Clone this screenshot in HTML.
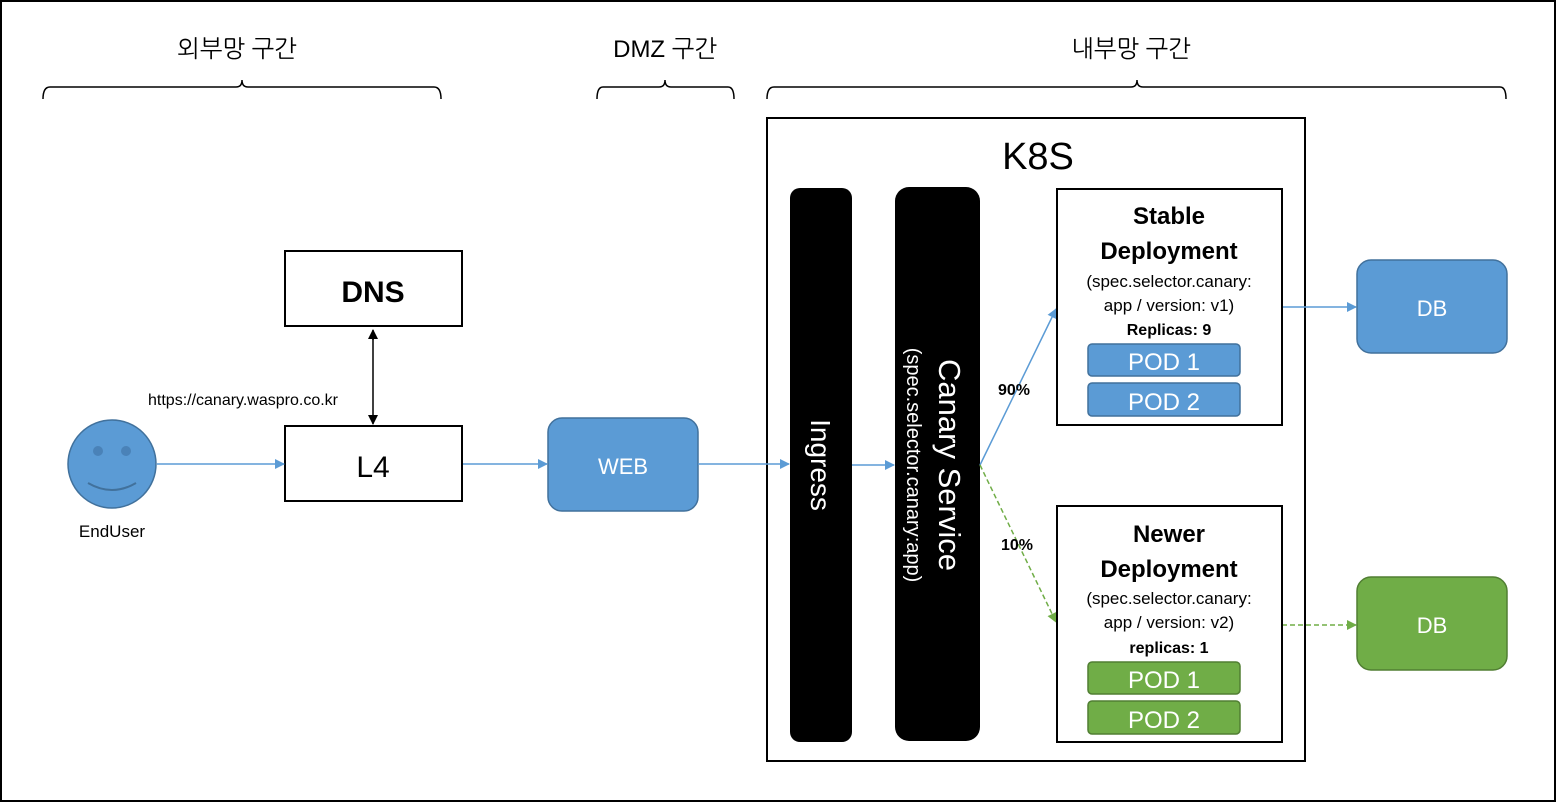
<!DOCTYPE html>
<html><head><meta charset="utf-8"><style>
html,body{margin:0;padding:0;background:#fff}
svg{display:block}
text{font-family:"Liberation Sans","NanumGothic",sans-serif}
</style></head><body>
<svg width="1556" height="802" viewBox="0 0 1556 802" xmlns="http://www.w3.org/2000/svg">
<defs>
<marker id="ab" markerWidth="10" markerHeight="10" refX="9" refY="5" orient="auto" markerUnits="userSpaceOnUse"><path d="M0,0 L10,5 L0,10 z" fill="#5b9bd5"/></marker>
<marker id="ag" markerWidth="10" markerHeight="10" refX="9" refY="5" orient="auto" markerUnits="userSpaceOnUse"><path d="M0,0 L10,5 L0,10 z" fill="#70ad47"/></marker>
<marker id="ak" markerWidth="10" markerHeight="10" refX="9" refY="5" orient="auto" markerUnits="userSpaceOnUse"><path d="M0,0 L10,5 L0,10 z" fill="#000"/></marker>
</defs>
<rect x="1" y="1" width="1554" height="800" fill="#fff" stroke="#000" stroke-width="2"/>

<g fill="none" stroke="#000" stroke-width="1.5">
<path d="M43,99 Q43,87 50,87 L236,87 Q242,87 242,80 Q242,87 248,87 L434,87 Q441,87 441,99"/>
<path d="M597,99 Q597,87 603,87 L659,87 Q665,87 665,80 Q665,87 671,87 L728,87 Q734,87 734,99"/>
<path d="M767,99 Q767,87 774,87 L1131,87 Q1137,87 1137,80 Q1137,87 1143,87 L1500,87 Q1506,87 1506,99"/>
</g>
<g font-size="24" text-anchor="middle" fill="#000">
<text x="237" y="57">외부망 구간</text>
<text x="665" y="57">DMZ 구간</text>
<text x="1131" y="57">내부망 구간</text>
</g>

<rect x="285" y="251" width="177" height="75" fill="#fff" stroke="#000" stroke-width="2"/>
<text x="373" y="302" font-size="30" font-weight="bold" text-anchor="middle">DNS</text>
<rect x="285" y="426" width="177" height="75" fill="#fff" stroke="#000" stroke-width="2"/>
<text x="373" y="477" font-size="30" text-anchor="middle">L4</text>
<line x1="373" y1="340" x2="373" y2="330" stroke="#000" stroke-width="1.5" marker-end="url(#ak)"/>
<line x1="373" y1="335" x2="373" y2="424" stroke="#000" stroke-width="1.5" marker-end="url(#ak)"/>
<text x="243" y="405" font-size="16" text-anchor="middle">https://canary.waspro.co.kr</text>

<circle cx="112" cy="464" r="44" fill="#5b9bd5" stroke="#41719c" stroke-width="1.5"/>
<circle cx="98" cy="451" r="5" fill="#4a82b8"/>
<circle cx="126" cy="451" r="5" fill="#4a82b8"/>
<path d="M88,483 Q112,497 136,483" fill="none" stroke="#41719c" stroke-width="2"/>
<text x="112" y="537" font-size="17" text-anchor="middle">EndUser</text>

<rect x="548" y="418" width="150" height="93" rx="14" fill="#5b9bd5" stroke="#41719c" stroke-width="1.5"/>
<text x="623" y="474" font-size="22" fill="#fff" text-anchor="middle">WEB</text>

<rect x="767" y="118" width="538" height="643" fill="#fff" stroke="#000" stroke-width="2"/>
<text x="1038" y="169" font-size="38" text-anchor="middle">K8S</text>

<rect x="790" y="188" width="62" height="554" rx="10" fill="#000"/>
<text transform="translate(821,465) rotate(90)" font-size="28" fill="#fff" text-anchor="middle" dy="10">Ingress</text>
<rect x="895" y="187" width="85" height="554" rx="14" fill="#000"/>
<text transform="translate(950,465) rotate(90)" font-size="31" fill="#fff" text-anchor="middle" dy="11">Canary Service</text>
<text transform="translate(914,465) rotate(90)" font-size="20" fill="#fff" text-anchor="middle" dy="7">(spec.selector.canary:app)</text>

<g stroke="#5b9bd5" stroke-width="1.5" fill="none">
<line x1="157" y1="464" x2="284" y2="464" marker-end="url(#ab)"/>
<line x1="463" y1="464" x2="547" y2="464" marker-end="url(#ab)"/>
<line x1="698" y1="464" x2="789" y2="464" marker-end="url(#ab)"/>
<line x1="852" y1="465" x2="894" y2="465" marker-end="url(#ab)"/>
<line x1="980" y1="465" x2="1056" y2="309" marker-end="url(#ab)"/>
<line x1="1282" y1="307" x2="1356" y2="307" marker-end="url(#ab)"/>
</g>
<g stroke="#70ad47" stroke-width="1.5" fill="none" stroke-dasharray="5,3">
<line x1="980" y1="465" x2="1056" y2="622" marker-end="url(#ag)"/>
<line x1="1282" y1="625" x2="1356" y2="625" marker-end="url(#ag)"/>
</g>

<text x="1014" y="395" font-size="16" font-weight="bold" text-anchor="middle">90%</text>
<text x="1017" y="550" font-size="16" font-weight="bold" text-anchor="middle">10%</text>

<rect x="1057" y="189" width="225" height="236" fill="#fff" stroke="#000" stroke-width="2"/>
<g text-anchor="middle">
<text x="1169" y="224" font-size="24" font-weight="bold">Stable</text>
<text x="1169" y="259" font-size="24" font-weight="bold">Deployment</text>
<text x="1169" y="287" font-size="17">(spec.selector.canary:</text>
<text x="1169" y="311" font-size="17">app / version: v1)</text>
<text x="1169" y="335" font-size="16" font-weight="bold">Replicas: 9</text>
</g>
<rect x="1088" y="344" width="152" height="32" rx="4" fill="#5b9bd5" stroke="#41719c" stroke-width="1.5"/>
<text x="1164" y="370" font-size="24" fill="#fff" text-anchor="middle">POD 1</text>
<rect x="1088" y="383" width="152" height="33" rx="4" fill="#5b9bd5" stroke="#41719c" stroke-width="1.5"/>
<text x="1164" y="410" font-size="24" fill="#fff" text-anchor="middle">POD 2</text>

<rect x="1057" y="506" width="225" height="236" fill="#fff" stroke="#000" stroke-width="2"/>
<g text-anchor="middle">
<text x="1169" y="542" font-size="24" font-weight="bold">Newer</text>
<text x="1169" y="577" font-size="24" font-weight="bold">Deployment</text>
<text x="1169" y="604" font-size="17">(spec.selector.canary:</text>
<text x="1169" y="628" font-size="17">app / version: v2)</text>
<text x="1169" y="653" font-size="16" font-weight="bold">replicas: 1</text>
</g>
<rect x="1088" y="662" width="152" height="32" rx="4" fill="#70ad47" stroke="#507e32" stroke-width="1.5"/>
<text x="1164" y="688" font-size="24" fill="#fff" text-anchor="middle">POD 1</text>
<rect x="1088" y="701" width="152" height="33" rx="4" fill="#70ad47" stroke="#507e32" stroke-width="1.5"/>
<text x="1164" y="728" font-size="24" fill="#fff" text-anchor="middle">POD 2</text>

<rect x="1357" y="260" width="150" height="93" rx="14" fill="#5b9bd5" stroke="#41719c" stroke-width="1.5"/>
<text x="1432" y="316" font-size="22" fill="#fff" text-anchor="middle">DB</text>
<rect x="1357" y="577" width="150" height="93" rx="14" fill="#70ad47" stroke="#507e32" stroke-width="1.5"/>
<text x="1432" y="633" font-size="22" fill="#fff" text-anchor="middle">DB</text>
</svg>
</body></html>
